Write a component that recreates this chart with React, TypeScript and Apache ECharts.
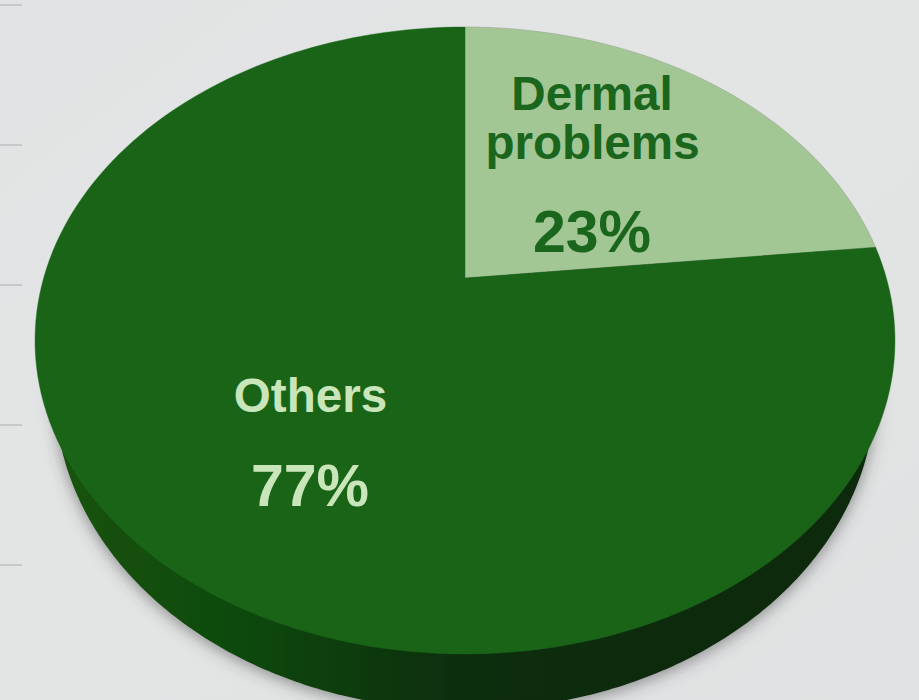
import React, { useEffect, useRef } from "react";
import * as echarts from "echarts";

const categories = ["Dermal problems", "Others"];
const values = [23, 77];
const sliceColors = ["#a3c794", "#1a6418"];
const labelColors = ["#1a661c", "#c9e5ba"];

const TOP = { cx: 465, cy: 340.5, rx: 430, ry: 313.5 };
const APEX = { x: 465, y: 278 };
const BOTTOM = { cx: 465, cy: 392, rx: 410, ry: 318 };
const TILT = 0.09;
const ARC_STEPS = 220;

// Perspective view of a circle: takes a fraction of the turn (clockwise from the top) to a rim point.
function rimPoint(fraction: number): number[] {
  const th = 2 * Math.PI * fraction;
  const zx = Math.sin(th);
  const zy = Math.cos(th);
  const nx = zx;
  const ny = zy + TILT;
  const dx = 1 + TILT * zy;
  const dy = -TILT * zx;
  const den = dx * dx + dy * dy;
  const wx = (nx * dx + ny * dy) / den;
  const wy = (ny * dx - nx * dy) / den;
  return [TOP.cx + TOP.rx * wx, TOP.cy - TOP.ry * wy];
}

function renderSlice(params: any, api: any) {
  const i = params.dataIndex;
  const total = values.reduce((a, b) => a + b, 0);
  const start = values.slice(0, i).reduce((a, b) => a + b, 0) / total;
  const span = api.value(0) / total;
  const pts: number[][] = [[APEX.x, APEX.y]];
  const n = Math.max(8, Math.round(ARC_STEPS * span));
  for (let k = 0; k <= n; k++) pts.push(rimPoint(start + (span * k) / n));
  return {
    type: "polygon",
    shape: { points: pts },
    style: { fill: sliceColors[i], stroke: i === 0 ? "#9aa596" : "#1a6418", lineWidth: i === 0 ? 0.6 : 0.4 },
  };
}

function renderDepth() {
  const pts: number[][] = [];
  for (let k = 0; k < ARC_STEPS * 2; k++) {
    const t = (2 * Math.PI * k) / (ARC_STEPS * 2);
    pts.push([BOTTOM.cx + BOTTOM.rx * Math.cos(t), BOTTOM.cy + BOTTOM.ry * Math.sin(t)]);
  }
  return {
    type: "polygon",
    shape: { points: pts },
    style: {
      fill: new echarts.graphic.LinearGradient(0, 0, 1, 0, [
        { offset: 0, color: "#135310" },
        { offset: 0.2, color: "#114b0f" },
        { offset: 0.35, color: "#0e3d0b" },
        { offset: 0.5, color: "#0a2d08" },
        { offset: 1, color: "#092b08" },
      ]),
      shadowBlur: 16,
      shadowColor: "rgba(60,60,60,0.55)",
      shadowOffsetX: 0,
      shadowOffsetY: 3,
    },
  };
}

export default function App() {
  const ref = useRef<HTMLDivElement>(null);
  useEffect(() => {
    document.body.style.margin = "0";
    const chart = echarts.init(ref.current!, null, { renderer: "svg" });
    const font = "Liberation Sans";
    const [dermalA, dermalB] = categories[0].split(" ");
    const text = (t: string, x: number, y: number, size: number, fill: string) => ({
      type: "text",
      z: 10,
      style: {
        text: t,
        x,
        y,
        fill,
        fontFamily: font,
        fontWeight: "bold",
        fontSize: size,
        textAlign: "center",
        textVerticalAlign: "middle",
      },
    });
    chart.setOption({
      animation: false,
      backgroundColor: new echarts.graphic.LinearGradient(0, 0, 1, 1, [
        { offset: 0, color: "#e1e3e4" },
        { offset: 0.5, color: "#e3e5e5" },
        { offset: 1, color: "#dfe1e2" },
      ]),
      graphic: [
        ...[0, 1, 2, 3, 4].map((i) => ({
          type: "line",
          z: 0,
          shape: { x1: 0, y1: 5 + i * 140, x2: 22, y2: 5 + i * 140 },
          style: { stroke: "#b4b6b7", lineWidth: 1.2 },
        })),
        text(dermalA, 592, 93, 47.6, labelColors[0]),
        text(dermalB, 592.5, 142, 47.6, labelColors[0]),
        text(`${values[0]}%`, 592, 232, 59, labelColors[0]),
        text(categories[1], 310.5, 395.5, 47.6, labelColors[1]),
        text(`${values[1]}%`, 310, 485.5, 59, labelColors[1]),
      ],
      series: [
        {
          type: "custom",
          coordinateSystem: "none",
          z: 1,
          silent: true,
          clip: false,
          data: [[values.reduce((a, b) => a + b, 0)]],
          renderItem: renderDepth,
        },
        {
          type: "custom",
          coordinateSystem: "none",
          z: 2,
          silent: true,
          clip: false,
          data: values.map((v) => [v]),
          renderItem: renderSlice,
        },
      ],
    });
    return () => chart.dispose();
  }, []);
  return <div ref={ref} style={{ width: 919, height: 700, overflow: "hidden" }} />;
}
